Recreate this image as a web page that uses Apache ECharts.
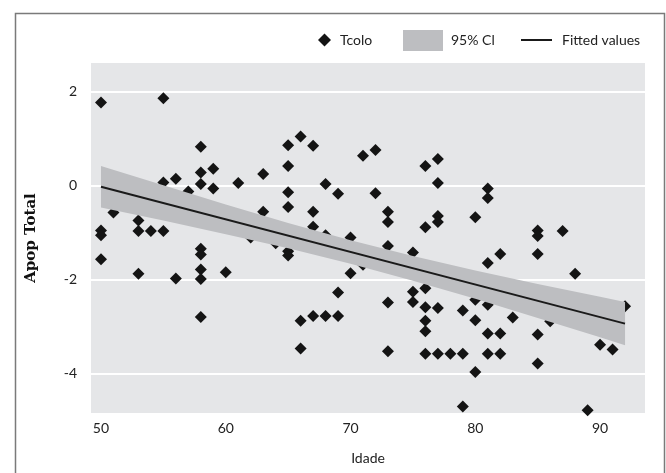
<!DOCTYPE html>
<html>
<head>
<meta charset="utf-8">
<script src="https://cdn.jsdelivr.net/npm/echarts@6/dist/echarts.min.js"></script>
<style>
html,body{margin:0;padding:0;background:#fff;}
#chart{width:666px;height:473px;}
</style>
</head>
<body>
<div id="chart"></div>
<script>
// Scatter data (Idade, Apop Total)
const ages = [
  50,50,50,50, 51, 53,53,53, 54, 55,55,55, 56,56, 57,
  58,58,58,58,58,58,58,58, 59,59, 60, 61, 62, 63,63, 64,
  65,65,65,65,65,65, 66,66,66, 67,67,67,67, 68,68,68, 69,69,69,
  70,70, 71,71, 72,72, 73,73,73,73,73, 75,75,75,
  76,76,76,76,76,76,76, 77,77,77,77,77,77, 78, 79,79,79,
  80,80,80,80, 81,81,81,81,81,81, 82,82,82, 83,
  85,85,85,85,85, 86, 87, 88, 89, 90, 91, 92
];
const apop = [
  1.77,-0.95,-1.05,-1.56, -0.57, -0.74,-0.96,-1.87, -0.96, 1.86,0.07,-0.96, 0.15,-1.97, -0.12,
  0.83,0.28,0.04,-1.34,-1.46,-1.78,-1.98,-2.79, 0.36,-0.06, -1.84, 0.06, -1.10, 0.25,-0.55, -1.22,
  0.86,0.42,-0.14,-0.45,-1.39,-1.48, 1.05,-2.87,-3.46, 0.85,-0.55,-0.87,-2.77, 0.04,-1.05,-2.77, -0.17,-2.27,-2.77,
  -1.10,-1.86, 0.64,-1.68, 0.76,-0.16, -0.55,-0.77,-1.28,-2.48,-3.52, -1.42,-2.25,-2.47,
  0.42,-0.88,-2.18,-2.58,-2.87,-3.09,-3.57, 0.57,0.06,-0.64,-0.77,-2.60,-3.57, -3.57, -2.65,-3.57,-4.69,
  -0.67,-2.42,-2.86,-3.96, -0.06,-0.26,-1.64,-2.53,-3.14,-3.57, -1.45,-3.14,-3.57, -2.80,
  -0.95,-1.07,-1.45,-3.16,-3.78, -2.88, -0.96, -1.87, -4.77, -3.38, -3.48, -2.56
];
// Fitted values
const fitX = [50, 92];
const fitY = [-0.02, -2.93];
// 95% CI band
const ciX    = [50, 55, 60, 65, 70, 75, 80, 85, 90, 92];
const ciHigh = [0.42, 0.01, -0.40, -0.79, -1.16, -1.49, -1.80, -2.09, -2.36, -2.47];
const ciLow  = [-0.46, -0.74, -1.03, -1.33, -1.66, -2.02, -2.40, -2.81, -3.22, -3.39];
// Ticks
const xTicks = [50, 60, 70, 80, 90];
const yTicks = [-4, -2, 0, 2];

const scatterData = ages.map((a, i) => [a, apop[i]]);
const fitData = fitX.map((x, i) => [x, fitY[i]]);
const bandData = ciX.map((x, i) => [x, ciLow[i], ciHigh[i]]);

const FONT = 'Lato, "Open Sans", sans-serif';
const chart = echarts.init(document.getElementById('chart'), null, {renderer: 'canvas'});
chart.setOption({
  animation: false,
  backgroundColor: '#ffffff',
  graphic: [{
    type: 'rect', left: 13, top: 11, z: -10, silent: true,
    shape: {width: 649, height: 480},
    style: {fill: 'none', stroke: '#7a7a7a', lineWidth: 1.5}
  }],
  grid: {left: 91, right: 21, top: 63, bottom: 60, show: true, backgroundColor: '#e5e6e8', borderWidth: 0},
  legend: [
    {data: [{name: 'Tcolo', icon: 'diamond'}], left: 313, top: 28, itemWidth: 13, itemHeight: 13,
     textStyle: {fontFamily: FONT, fontSize: 14, color: '#222', padding: [0,0,0,4]}},
    {data: [{name: '95% Cl', icon: 'rect'}], left: 398, top: 25, itemWidth: 40, itemHeight: 21,
     textStyle: {fontFamily: FONT, fontSize: 14, color: '#222', padding: [0,0,0,3]}},
    {data: [{name: 'Fitted values', icon: 'rect'}], left: 516, top: 28, itemWidth: 31, itemHeight: 2,
     textStyle: {fontFamily: FONT, fontSize: 14, color: '#222', padding: [0,0,0,5]}}
  ],
  xAxis: {
    type: 'value', min: 49.2, max: 93.6,
    name: 'Idade', nameLocation: 'middle', nameGap: 38,
    nameTextStyle: {fontFamily: FONT, fontSize: 14, color: '#222'},
    axisLine: {show: false},
    axisTick: {show: false, customValues: xTicks},
    axisLabel: {customValues: xTicks, margin: 8, fontFamily: FONT, fontSize: 14, color: '#222'},
    splitLine: {show: false}
  },
  yAxis: {
    type: 'value', min: -4.83, max: 2.61,
    name: 'Apop Total', nameLocation: 'middle', nameGap: 52,
    nameTextStyle: {fontFamily: '"DejaVu Serif", serif', fontWeight: 'bold', fontSize: 15, color: '#111'},
    axisLine: {show: false},
    axisTick: {show: false, customValues: yTicks},
    axisLabel: {customValues: yTicks, margin: 14, fontFamily: FONT, fontSize: 14, color: '#222'},
    splitLine: {show: true, lineStyle: {color: '#ffffff', width: 2}}
  },
  series: [
    {
      name: 'Tcolo', type: 'scatter', z: 2,
      symbol: 'diamond', symbolSize: 12,
      itemStyle: {color: '#141414', opacity: 1},
      data: scatterData
    },
    {
      name: '95% Cl', type: 'custom', z: 3,
      itemStyle: {color: '#bdbec1'},
      renderItem: function (params, api) {
        if (params.dataIndex !== 0) return null;
        const pts = [];
        for (let i = 0; i < bandData.length; i++) pts.push(api.coord([bandData[i][0], bandData[i][2]]));
        for (let i = bandData.length - 1; i >= 0; i--) pts.push(api.coord([bandData[i][0], bandData[i][1]]));
        return {type: 'polygon', shape: {points: pts}, style: {fill: '#bdbec1'}};
      },
      encode: {x: 0, y: [1, 2]},
      data: bandData
    },
    {
      name: 'Fitted values', type: 'line', z: 4,
      symbol: 'none', showSymbol: false,
      lineStyle: {color: '#1a1a1a', width: 2},
      itemStyle: {color: '#1a1a1a'},
      data: fitData
    }
  ]
});
</script>
</body>
</html>
